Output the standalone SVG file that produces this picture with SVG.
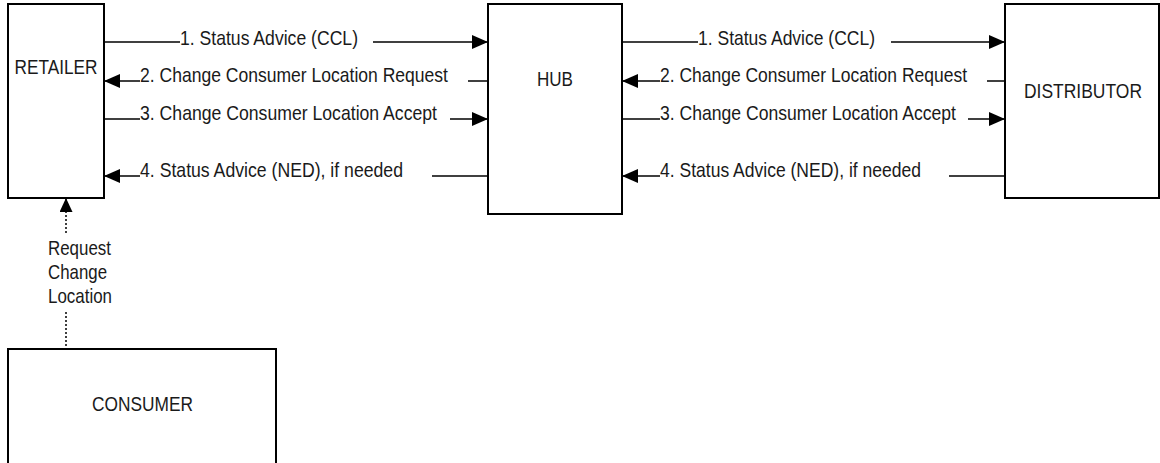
<svg xmlns="http://www.w3.org/2000/svg" width="1160" height="463" viewBox="0 0 1160 463">
<defs>
<style>
.box{fill:#fff;stroke:#000;stroke-width:2}
.lbl{font-family:"Liberation Sans",Arial,sans-serif;font-size:21px;fill:#1a1a1a}
.ln{stroke:#000;stroke-width:1.5;fill:none}
.dot{stroke:#000;stroke-width:1.5;stroke-dasharray:2,2;fill:none}
</style>
<marker id="ah" markerUnits="userSpaceOnUse" markerWidth="16" markerHeight="14" refX="16" refY="7" orient="auto">
<path d="M0,0 L16,7 L0,14 z" fill="#000"/>
</marker>
<marker id="ahs" markerUnits="userSpaceOnUse" markerWidth="14" markerHeight="13" refX="14" refY="6.5" orient="auto">
<path d="M0,0 L14,6.5 L0,13 z" fill="#000"/>
</marker>
</defs>
<rect width="1160" height="463" fill="#fff"/>
<g id="retailer">
<rect class="box" x="8" y="4" width="96" height="194"/>
<text class="lbl" x="56" y="74" text-anchor="middle" textLength="83" lengthAdjust="spacingAndGlyphs">RETAILER</text>
</g>
<g id="hub">
<rect class="box" x="488" y="4" width="134" height="210"/>
<text class="lbl" x="555" y="86" text-anchor="middle" textLength="36" lengthAdjust="spacingAndGlyphs">HUB</text>
</g>
<g id="distributor">
<rect class="box" x="1005" y="4" width="154" height="194"/>
<text class="lbl" x="1083" y="98" text-anchor="middle" textLength="118" lengthAdjust="spacingAndGlyphs">DISTRIBUTOR</text>
</g>
<g id="consumer">
<rect class="box" x="8" y="349" width="268" height="130"/>
<text class="lbl" x="142.5" y="411" text-anchor="middle" textLength="101" lengthAdjust="spacingAndGlyphs">CONSUMER</text>
</g>
<g id="connectors">
<!-- Retailer <-> Hub -->
<line class="ln" x1="104" y1="42" x2="180" y2="42"/>
<line class="ln" x1="373" y1="42" x2="488" y2="42" marker-end="url(#ah)"/>
<line class="ln" x1="140" y1="81" x2="104" y2="81" marker-end="url(#ah)"/>
<line class="ln" x1="468" y1="81" x2="488" y2="81"/>
<line class="ln" x1="104" y1="119" x2="140" y2="119"/>
<line class="ln" x1="450" y1="119" x2="488" y2="119" marker-end="url(#ah)"/>
<line class="ln" x1="140" y1="176" x2="104" y2="176" marker-end="url(#ah)"/>
<line class="ln" x1="432" y1="176" x2="488" y2="176"/>
<text class="lbl" x="180" y="45" textLength="178" lengthAdjust="spacingAndGlyphs">1. Status Advice (CCL)</text>
<text class="lbl" x="140" y="82" textLength="308" lengthAdjust="spacingAndGlyphs">2. Change Consumer Location Request</text>
<text class="lbl" x="140" y="120" textLength="297" lengthAdjust="spacingAndGlyphs">3. Change Consumer Location Accept</text>
<text class="lbl" x="140" y="177" textLength="263" lengthAdjust="spacingAndGlyphs">4. Status Advice (NED), if needed</text>
<!-- Hub <-> Distributor -->
<line class="ln" x1="622" y1="42" x2="698" y2="42"/>
<line class="ln" x1="891" y1="42" x2="1005" y2="42" marker-end="url(#ah)"/>
<line class="ln" x1="660" y1="81" x2="622" y2="81" marker-end="url(#ah)"/>
<line class="ln" x1="987" y1="81" x2="1005" y2="81"/>
<line class="ln" x1="622" y1="119" x2="660" y2="119"/>
<line class="ln" x1="968" y1="119" x2="1005" y2="119" marker-end="url(#ah)"/>
<line class="ln" x1="660" y1="176" x2="622" y2="176" marker-end="url(#ah)"/>
<line class="ln" x1="949" y1="176" x2="1005" y2="176"/>
<text class="lbl" x="698" y="45" textLength="177" lengthAdjust="spacingAndGlyphs">1. Status Advice (CCL)</text>
<text class="lbl" x="660" y="82" textLength="307" lengthAdjust="spacingAndGlyphs">2. Change Consumer Location Request</text>
<text class="lbl" x="660" y="120" textLength="296" lengthAdjust="spacingAndGlyphs">3. Change Consumer Location Accept</text>
<text class="lbl" x="660" y="177" textLength="261" lengthAdjust="spacingAndGlyphs">4. Status Advice (NED), if needed</text>
<!-- Consumer -> Retailer -->
<line class="dot" x1="66" y1="233" x2="66" y2="198" marker-end="url(#ahs)"/>
<line class="dot" x1="66" y1="312" x2="66" y2="348"/>
<text class="lbl" x="48" y="255" textLength="63" lengthAdjust="spacingAndGlyphs">Request</text>
<text class="lbl" x="48" y="279" textLength="59" lengthAdjust="spacingAndGlyphs">Change</text>
<text class="lbl" x="48" y="303" textLength="64" lengthAdjust="spacingAndGlyphs">Location</text>
</g>
</svg>
